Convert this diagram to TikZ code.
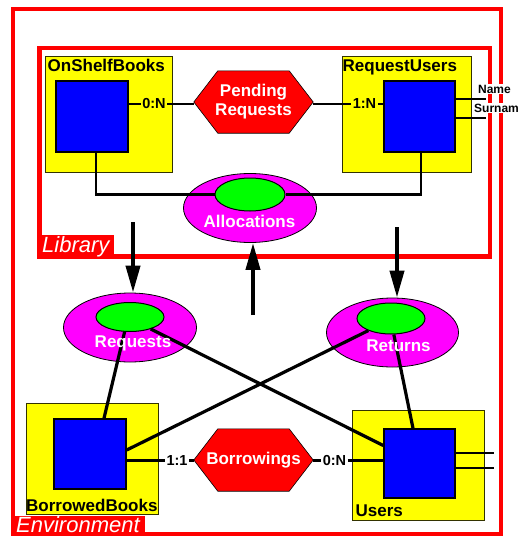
\documentclass[tikz,border=0pt]{standalone}
\usepackage{fontspec}
\setmainfont{Liberation Sans}
\usetikzlibrary{shapes.geometric,arrows.meta}
\pgfdeclarelayer{background}
\pgfsetlayers{background,main}
\definecolor{cRed}{RGB}{255,0,0}
\definecolor{cYellow}{RGB}{255,255,0}
\definecolor{cBlue}{RGB}{0,0,255}
\definecolor{cMag}{RGB}{255,0,255}
\definecolor{cGreen}{RGB}{0,255,0}
\newcommand\fBig{\fontsize{17}{19.5}\selectfont\bfseries}
\newcommand\fCard{\fontsize{14.5}{16}\selectfont\bfseries}
\newcommand\fAttr{\fontsize{12}{13}\selectfont\bfseries}
\newcommand\fFrame{\fontsize{22}{24}\selectfont\itshape}
\tikzset{
  frame/.style={draw=cRed, line width=4.5pt},
  framelabel/.style={fill=cRed, text=white, font=\fFrame, inner xsep=5pt, inner ysep=1pt, anchor=south west},
  ent/.style={fill=cYellow, draw=black!80!cYellow, line width=1pt, inner sep=0},
  keybox/.style={fill=cBlue, draw=black, line width=1.5pt, inner sep=0},
  title/.style={font=\fBig, inner sep=0, anchor=base west},
  hexbox/.style={inner sep=0, minimum width=119pt, minimum height=62pt, text=white, font=\fBig, align=center},
  hexfill/.style={fill=cRed, draw=black, line width=0.6pt},
  card/.style={font=\fCard, inner xsep=1.5pt, inner ysep=0pt},
  outer/.style={ellipse, fill=cMag, draw=black, line width=0.8pt, inner sep=0},
  inner/.style={ellipse, fill=cGreen, draw=black, line width=1pt, inner sep=0},
  elab/.style={text=white, font=\fBig, inner sep=0, anchor=base},
  conn/.style={draw=black, line width=2.6pt},
  cross/.style={draw=black, line width=3.2pt},
  bigarrow/.style={draw=black, line width=4pt, -{Triangle[width=14pt,length=27pt]}},
  attr/.style={fill=white, font=\fAttr, inner sep=1pt, anchor=base},
}
\begin{document}
\begin{tikzpicture}[x=1pt, y=-1pt]
\useasboundingbox (0,0) rectangle (520,536);
\begin{pgfonlayer}{background}
  \fill[white] (0,0) rectangle (520,536);
\end{pgfonlayer}

% frames
\draw[frame] (13,9) rectangle (501,534);
\draw[frame] (39.5,48) rectangle (490,256.5);
\node[framelabel, text height=17pt, text depth=5pt] (liblab) at (37,259) {Library};
\node[framelabel, text height=16pt, text depth=2pt] (envlab) at (11,536) {Environment};

% entity boxes
\node[ent, minimum width=127pt, minimum height=116pt] (os) at (108.5,114) {};
\node[ent, minimum width=129pt, minimum height=116pt] (ru) at (406.5,114) {};
\node[ent, minimum width=132pt, minimum height=111pt] (bb) at (92,458.5) {};
\node[ent, minimum width=132pt, minimum height=110pt] (us) at (418,465) {};
\node[title] (osT) at (47.5,71) {OnShelfBooks};
\node[title] (ruT) at (342.5,71) {RequestUsers};
\node[title] (bbT) at (26,511) {BorrowedBooks};
\node[title] (usT) at (355.5,516) {Users};
\node[keybox, minimum width=72pt, minimum height=71pt] (osb) at (92,116.5) {};
\node[keybox, minimum width=71pt, minimum height=71pt] (rub) at (419.5,116.5) {};
\node[keybox, minimum width=72pt, minimum height=70pt] (bbb) at (90,454) {};
\node[keybox, minimum width=71pt, minimum height=69pt] (ub) at (419.5,463.5) {};

% relationships (hexagons)
\node[hexbox] (pr) at (253.5,102) {Pending\\[-0.5pt]Requests};
\node[hexbox] (bw) at (253.5,460) {\raisebox{-1.5pt}{Borrowings}};
\begin{pgfonlayer}{background}
  \foreach \h in {pr,bw}{
    \filldraw[hexfill] (\h.west) -- ([xshift=24pt]\h.north west) -- ([xshift=-24pt]\h.north east)
      -- (\h.east) -- ([xshift=-24pt]\h.south east) -- ([xshift=24pt]\h.south west) -- cycle;
  }
\end{pgfonlayer}

% cardinalities
\node[card] (c1) at (154,104) {0:N};
\node[card] (c2) at (364.5,104) {1:N};
\node[card] (c3) at (177,460.5) {1:1};
\node[card] (c4) at (334.5,460.5) {0:N};
\draw[conn] (c1.west -| osb.east) -- (c1.west);
\draw[conn] (c1.east) -- (c1.east -| pr.west);
\draw[conn] (c2.west -| pr.east) -- (c2.west);
\draw[conn] (c2.east) -- (c2.east -| rub.west);
\draw[conn] (c3.west -| bbb.east) -- (c3.west);
\draw[conn] (c3.east) -- (c3.east -| bw.west);
\draw[conn] (c4.west -| bw.east) -- (c4.west);
\draw[conn] (c4.east) -- (c4.east -| ub.west);

% ellipses
\node[outer, minimum width=133pt, minimum height=69pt] (alloc) at (250,208) {};
\node[inner, minimum width=70pt, minimum height=33pt] (allocG) at (250,194.5) {};
\node[outer, minimum width=133pt, minimum height=69pt] (req) at (130,327.5) {};
\node[inner, minimum width=68pt, minimum height=29pt] (reqG) at (130,317) {};
\node[outer, minimum width=132pt, minimum height=69pt] (ret) at (392.5,332.5) {};
\node[inner, minimum width=68pt, minimum height=31pt] (retG) at (391,318.5) {};

% connectors
\draw[conn] ([xshift=4pt]osb.south) |- (allocG.west);
\draw[conn] ([xshift=1.5pt]rub.south) |- (allocG.east);
\draw[cross] (reqG.-30) -- ([yshift=18pt]ub.west);
\draw[cross] (reqG.250) -- ([xshift=14pt]bbb.north);
\draw[cross] ([yshift=4pt]bbb.east) -- (retG.208);
\draw[cross] (retG.-80) -- ([xshift=-6.5pt]ub.north);

% ellipse labels
\node[elab] (allocL) at (249.5,227) {Allocations};
\node[elab] (reqL) at (133,347) {Requests};
\node[elab] (retL) at (398.5,351) {Returns};

% arrows
\coordinate (a1) at (133,222);
\coordinate (a2) at (253,315);
\coordinate (a3) at (397,227);
\draw[bigarrow] (a1) -- (a1 |- req.north);
\draw[bigarrow] (a2) -- (a2 |- alloc.south);
\draw[bigarrow] (a3) -- (a3 |- ret.north);

% attributes
\coordinate (n1) at (486,99);
\coordinate (n2) at (486,118);
\coordinate (u1) at (494,453);
\coordinate (u2) at (494,468);
\draw[conn] (n1 -| rub.east) -- (n1);
\draw[conn] (n2 -| rub.east) -- (n2);
\draw[conn] (u1 -| ub.east) -- (u1);
\draw[conn] (u2 -| ub.east) -- (u2);
\node[attr] (nameL) at (494.5,93) {Name};
\node[attr] (surL) at (496.5,112) {Surnam};
\end{tikzpicture}
\end{document}
